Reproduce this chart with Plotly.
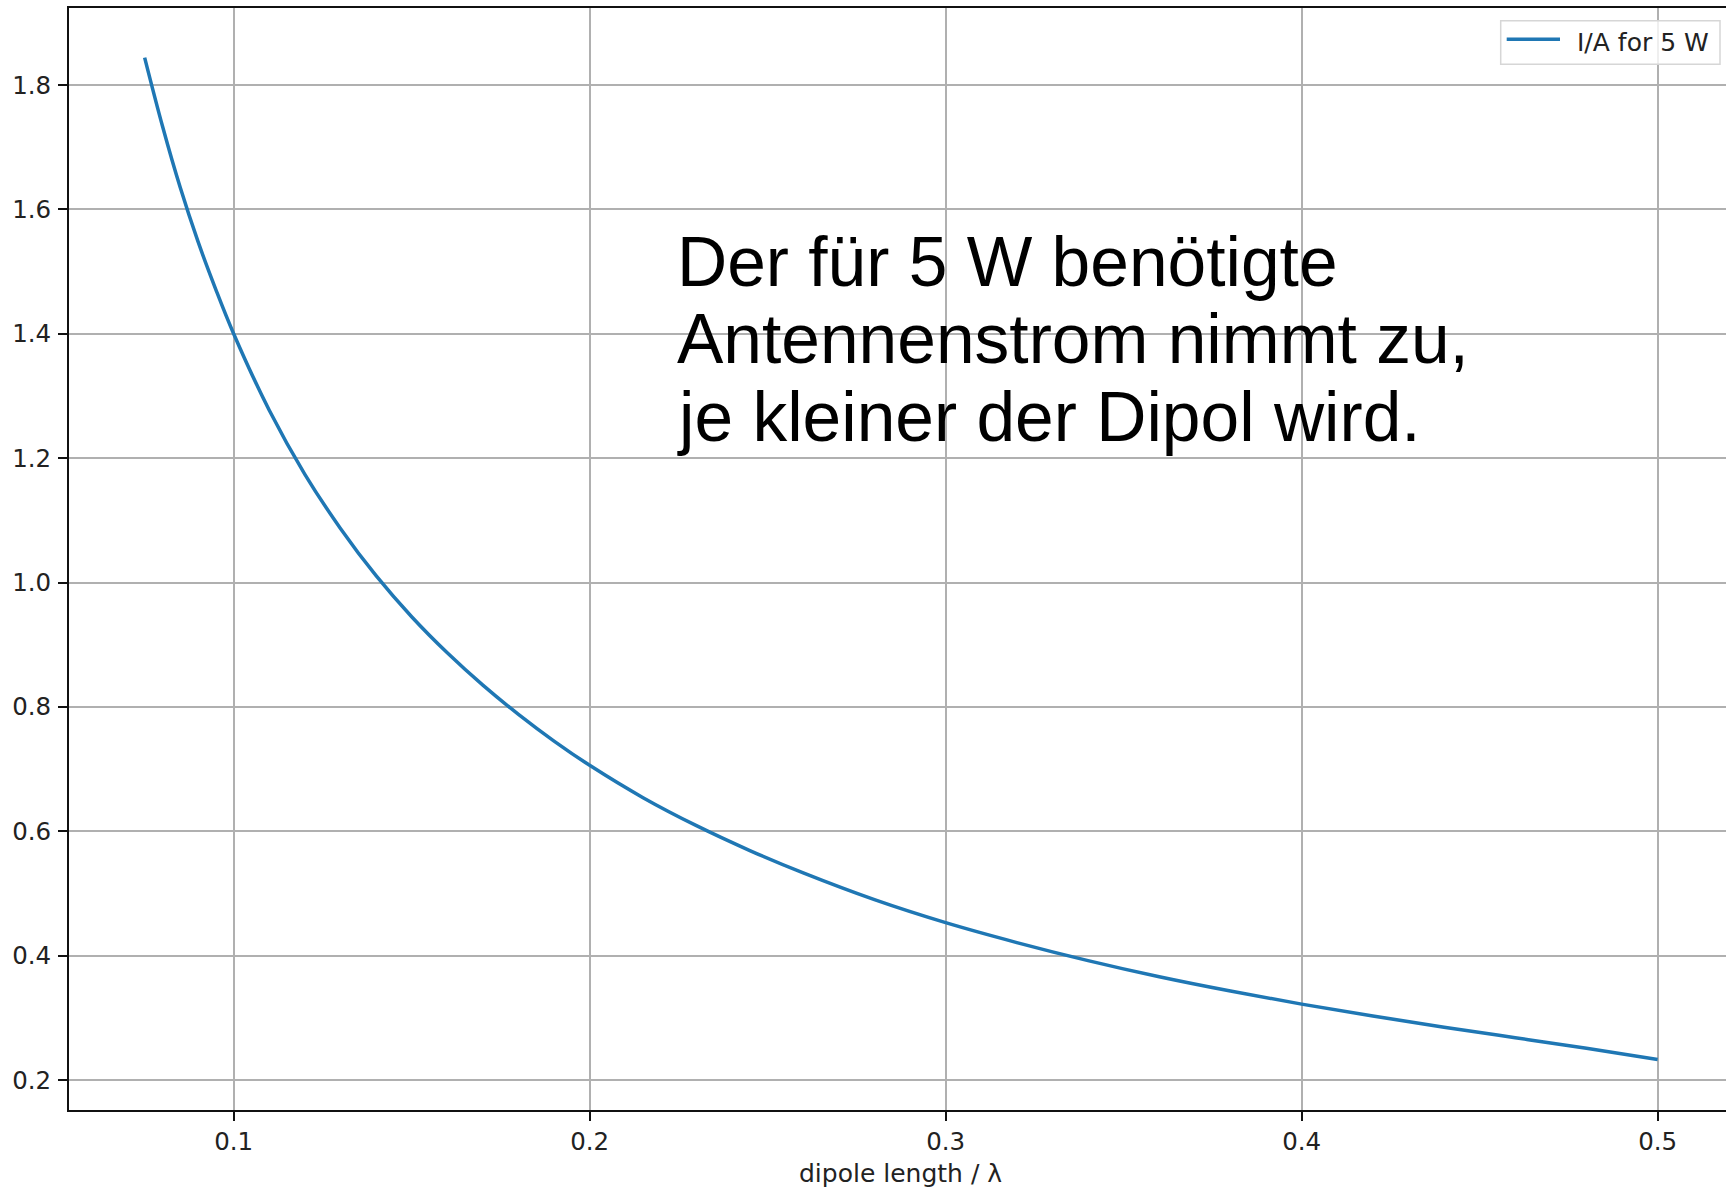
import plotly.graph_objects as go

# Dipole length in wavelengths and the antenna current (A) needed for 5 W
dipole_length = [0.075, 0.08, 0.085, 0.09, 0.095, 0.10, 0.11, 0.12, 0.13, 0.14,
                 0.15, 0.16, 0.17, 0.18, 0.19, 0.20, 0.215, 0.23, 0.245, 0.26,
                 0.28, 0.30, 0.32, 0.34, 0.36, 0.38, 0.40, 0.42, 0.44, 0.46,
                 0.48, 0.50]
current_5w = [1.844, 1.734, 1.635, 1.548, 1.471, 1.400, 1.277, 1.174, 1.087, 1.011,
              0.945, 0.887, 0.835, 0.788, 0.745, 0.706, 0.654, 0.609, 0.569, 0.533,
              0.490, 0.453, 0.421, 0.392, 0.366, 0.343, 0.322, 0.303, 0.285, 0.268,
              0.251, 0.233]

x_ticks = [0.1, 0.2, 0.3, 0.4, 0.5]
y_ticks = [0.2, 0.4, 0.6, 0.8, 1.0, 1.2, 1.4, 1.6, 1.8]

series_name = "I/A for 5 W"
x_title = "dipole length / λ"
note_lines = ["Der für 5 W benötigte", "Antennenstrom nimmt zu,", "je kleiner der Dipol wird."]

W, H = 1726, 1190
M_L, M_R, M_T, M_B = 69, 0, 8, 80
PW, PH = W - M_L - M_R, H - M_T - M_B

LINE_COLOR = "#1f77b4"
TEXT_FONT = "DejaVu Sans"


def px_x(px):
    return (px - M_L) / PW


def px_y(py):
    return (H - M_B - py) / PH


fig = go.Figure()
fig.add_trace(go.Scatter(
    x=dipole_length, y=current_5w, mode="lines", name=series_name,
    line=dict(color=LINE_COLOR, width=3.5, shape="spline", smoothing=1.0),
    showlegend=False,
))

axis_common = dict(
    showgrid=True, gridcolor="#b0b0b0", gridwidth=1.5, zeroline=False,
    showline=True, linecolor="#111111", linewidth=2,
    ticks="outside", ticklen=9, tickwidth=2, tickcolor="#111111",
    tickfont=dict(family=TEXT_FONT, size=24.5, color="#222222"),
)

fig.update_xaxes(range=[0.05375, 0.05375 + PW / 3560.0], tickvals=x_ticks,
                 ticktext=[f"{v:.1f}" for v in x_ticks], mirror=True, **axis_common)
fig.update_yaxes(range=[0.1518, 0.1518 + PH / 621.9], tickvals=y_ticks,
                 ticktext=[f"{v:.1f}" for v in y_ticks], mirror=False,
                 ticklabelstandoff=2, **axis_common)

annotations = []
# axis label
annotations.append(dict(
    text=x_title, xref="paper", yref="paper", x=px_x(900), y=px_y(1173.5),
    xanchor="center", yanchor="middle", showarrow=False,
    font=dict(family=TEXT_FONT, size=25, color="#222222"),
))
# explanatory note, one annotation per line
for i, line in enumerate(note_lines):
    annotations.append(dict(
        text=line, xref="paper", yref="paper", x=px_x(677), y=px_y(262 + 77.3 * i),
        xanchor="left", yanchor="middle", showarrow=False, borderpad=0, borderwidth=0,
        font=dict(family="Liberation Sans", size=69.5, color="black"),
    ))
# legend entry text
annotations.append(dict(
    text=series_name, xref="paper", yref="paper", x=px_x(1577), y=px_y(42.4),
    xanchor="left", yanchor="middle", showarrow=False, borderpad=0, borderwidth=0,
    font=dict(family=TEXT_FONT, size=25, color="#222222"),
))

shapes = [
    # legend frame
    dict(type="rect", xref="paper", yref="paper",
         x0=px_x(1500.7), x1=px_x(1720), y0=px_y(64.3), y1=px_y(20.7),
         line=dict(color="#d6d6d6", width=1.5), fillcolor="rgba(255,255,255,0.8)", layer="above"),
    # legend line sample
    dict(type="line", xref="paper", yref="paper",
         x0=px_x(1506.7), x1=px_x(1560), y0=px_y(39.3), y1=px_y(39.3),
         line=dict(color=LINE_COLOR, width=3.5), layer="above"),
]

fig.update_layout(
    width=W, height=H,
    margin=dict(l=M_L, r=M_R, t=M_T, b=M_B, autoexpand=False),
    paper_bgcolor="white", plot_bgcolor="white",
    annotations=annotations, shapes=shapes, showlegend=False,
)

fig.write_html("out.html")
